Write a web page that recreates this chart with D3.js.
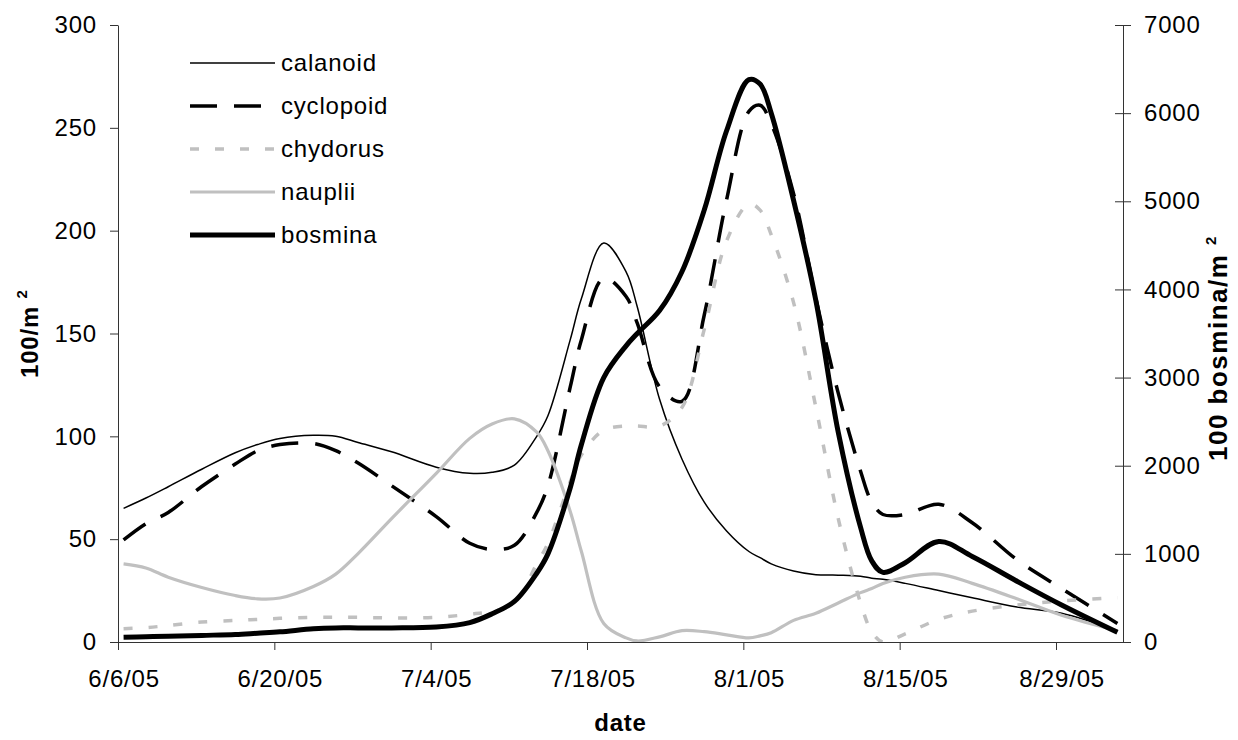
<!DOCTYPE html>
<html>
<head>
<meta charset="utf-8">
<script src="https://cdn.jsdelivr.net/npm/d3@7"></script>
<style>
  body { margin: 0; background: #fff; }
  svg { display: block; font-family: "Liberation Sans", Arial, sans-serif; letter-spacing: 0.8px; }
</style>
</head>
<body>
<svg id="chart" width="1238" height="740"></svg>
<script>
"use strict";

// sample dates (2005)
let sampleDates = ['6/6', '6/8', '6/10', '6/13', '6/16', '6/18', '6/20', '6/23', '6/25', '6/27',
  '6/30', '7/4', '7/7', '7/9', '7/11', '7/13', '7/14', '7/16', '7/17', '7/19',
  '7/21', '7/22', '7/24', '7/26', '7/28', '7/30', '8/1', '8/2', '8/3', '8/5',
  '8/7', '8/9', '8/11', '8/12', '8/13', '8/15', '8/18', '8/21', '8/25', '8/29', '9/3'];

// left axis, 100/m2
let calanoid = [65, 70, 75.5, 84, 92, 96, 99, 100.5, 100, 97, 92.5, 85, 82, 82.5, 86, 100, 110, 147, 167, 194,
  180, 163, 118, 89, 68, 54, 44, 41, 38, 34.5, 32.7, 32.5, 32, 31, 30.5, 28.5, 25, 21.5, 17, 14, 5.5];
let cyclopoid = [49.6, 57.5, 63, 75.6, 86.5, 93, 96, 96.5, 93, 87, 76, 61, 48, 45, 47, 63, 76, 124, 147, 177,
  168, 155, 124, 117, 159, 215, 258, 261, 252, 218, 167, 121, 83, 68, 62, 62, 67, 58, 40, 26, 9];
let chydorus = [6.5, 7, 8, 9.7, 10.5, 11, 11.5, 12, 12, 12, 11.7, 12, 13.5, 15, 19, 38, 48, 78, 91, 103,
  105, 105, 105, 114, 152, 195, 213, 210, 198, 165, 114, 60, 19, 5, 0, 4, 11, 15, 18, 20, 21.5];
let nauplii = [38, 36, 31.5, 26.5, 22.6, 21, 21.4, 27, 33, 43, 60, 82, 99, 106, 108.5, 102, 93, 63.5, 44, 9,
  2, 0.5, 2.5, 5.5, 5, 3.5, 2, 3, 4.5, 10.5, 14, 19, 24, 26, 28.5, 31.5, 33, 28.5, 21, 13, 5.5];

// right axis, 100 bosmina/m2
let bosmina = [55, 60, 65, 75, 85, 100, 115, 150, 160, 160, 160, 170, 220, 320, 460, 780, 1000, 1750, 2240, 3000,
  3360, 3500, 3760, 4200, 4900, 5800, 6380, 6330, 6000, 5010, 3870, 2380, 1300, 920, 790, 900, 1140, 970, 690, 420, 110];

let xTickDates = ['6/6', '6/20', '7/4', '7/18', '8/1', '8/15', '8/29'];
let leftTicks = [0, 50, 100, 150, 200, 250, 300];
let rightTicks = [0, 1000, 2000, 3000, 4000, 5000, 6000, 7000];

let seriesNames = ['calanoid', 'cyclopoid', 'chydorus', 'nauplii', 'bosmina'];

let styles = {
  calanoid: { color: '#000', width: 1.5, dash: null },
  cyclopoid: { color: '#000', width: 3.5, dash: '27,17' },
  chydorus: { color: '#c0c0c0', width: 3.5, dash: '9,16' },
  nauplii: { color: '#c0c0c0', width: 3.2, dash: null },
  bosmina: { color: '#000', width: 5, dash: null }
};

function parseDay(s)
{
  let parts = s.split('/').map(Number);
  return new Date(2005, parts[0] - 1, parts[1]);
}

const plotLeft = 118, plotRight = 1123, plotTop = 25, plotBottom = 642;
const halfDay = 12 * 3600 * 1000;

let svg = d3.select('#chart');

let x = d3.scaleTime()
  .domain([new Date(2005, 5, 6), new Date(2005, 8, 4)])
  .range([plotLeft, plotRight]);
let yLeft = d3.scaleLinear().domain([0, 300]).range([plotBottom, plotTop]);
let yRight = d3.scaleLinear().domain([0, 7000]).range([plotBottom, plotTop]);

let dates = sampleDates.map(parseDay);

let data = {
  calanoid: calanoid,
  cyclopoid: cyclopoid,
  chydorus: chydorus,
  nauplii: nauplii,
  bosmina: bosmina
};

svg.append('defs')
  .append('clipPath')
  .attr('id', 'plotClip')
  .append('rect')
  .attr('x', plotLeft)
  .attr('y', plotTop - 5)
  .attr('width', plotRight - plotLeft)
  .attr('height', plotBottom - plotTop + 5);

// axes
let fmt = d3.timeFormat('%-m/%-d/%y');
let halfDayPx = x(new Date(2005, 5, 6, 12)) - x(new Date(2005, 5, 6));

let xAxis = svg.append('g')
  .attr('transform', `translate(0,${plotBottom})`)
  .call(d3.axisBottom(x)
    .tickValues(xTickDates.map(parseDay))
    .tickFormat(fmt)
    .tickSizeInner(8)
    .tickSizeOuter(0)
    .tickPadding(20));
xAxis.selectAll('.tick text')
  .attr('x', halfDayPx)
  .style('font-size', '24px');

let leftAxis = svg.append('g')
  .attr('transform', `translate(${plotLeft},0)`)
  .call(d3.axisLeft(yLeft)
    .tickValues(leftTicks)
    .tickSizeInner(8)
    .tickSizeOuter(0)
    .tickPadding(13));
leftAxis.selectAll('.tick text').style('font-size', '24px');

let rightAxis = svg.append('g')
  .attr('transform', `translate(${plotRight},0)`)
  .call(d3.axisRight(yRight)
    .tickValues(rightTicks)
    .tickFormat(d3.format('d'))
    .tickSizeInner(8)
    .tickSizeOuter(0)
    .tickPadding(13));
rightAxis.selectAll('.tick line').attr('x1', -8);
rightAxis.selectAll('.tick text').style('font-size', '24px');

svg.selectAll('.domain, .tick line')
  .attr('stroke', '#333');
svg.selectAll('.tick text')
  .attr('fill', '#000')
  .style('font-family', '"Liberation Sans", Arial, sans-serif');

// axis titles
svg.append('text')
  .attr('x', (plotLeft + plotRight) / 2)
  .attr('y', 731)
  .attr('text-anchor', 'middle')
  .style('font-size', '24px')
  .style('font-weight', 'bold')
  .text('date');

function axisTitle(label, xPos, yPos, size, spacing)
{
  let t = svg.append('text')
    .attr('transform', `translate(${xPos},${yPos}) rotate(-90)`)
    .attr('text-anchor', 'start')
    .style('font-size', size + 'px')
    .style('font-weight', 'bold');
  t.append('tspan')
    .style('letter-spacing', spacing + 'px')
    .text(label + ' ');
  t.append('tspan')
    .attr('dy', -11)
    .style('font-size', '15px')
    .text('2');
  return t;
}

axisTitle('100/m', 38, 378, 24, 0.8);
axisTitle('100 bosmina/m', 1227, 461, 26, 1.5);

// lines
let plot = svg.append('g').attr('clip-path', 'url(#plotClip)');

seriesNames.forEach(name =>
{
  let yScale = name === 'bosmina' ? yRight : yLeft;
  let line = d3.line()
    .x((d, i) => x(new Date(dates[i].getTime() + halfDay)))
    .y(d => yScale(d))
    .curve(d3.curveCatmullRom.alpha(0.5));
  let st = styles[name];
  plot.append('path')
    .datum(data[name])
    .attr('d', line)
    .attr('fill', 'none')
    .attr('stroke', st.color)
    .attr('stroke-width', st.width)
    .attr('stroke-dasharray', st.dash)
    .attr('stroke-linejoin', 'round');
});

// legend
let legend = svg.append('g');
seriesNames.forEach((name, i) =>
{
  let yPos = 63 + i * 43;
  let st = styles[name];
  legend.append('line')
    .attr('x1', 190)
    .attr('x2', 275)
    .attr('y1', yPos)
    .attr('y2', yPos)
    .attr('stroke', st.color)
    .attr('stroke-width', st.width)
    .attr('stroke-dasharray', st.dash);
  legend.append('text')
    .attr('x', 281)
    .attr('y', yPos)
    .attr('dy', '0.35em')
    .style('font-size', '24px')
    .text(name);
});
</script>
</body>
</html>
